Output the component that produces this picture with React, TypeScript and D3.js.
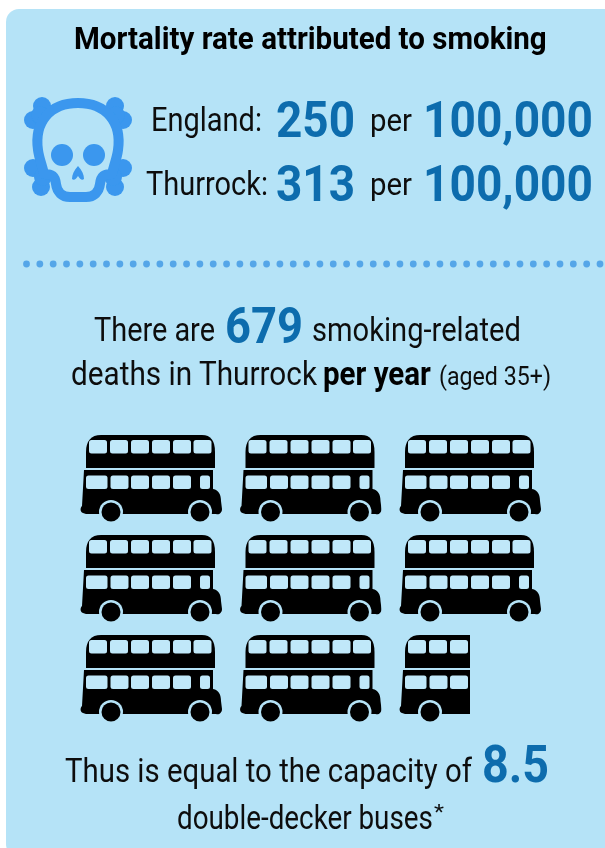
import React, { useEffect, useRef } from "react";
import * as d3 from "d3";

const areas = ["England:", "Thurrock:"];
const rates = [250, 313];
const perPopulation = [100000, 100000];
const deathsPerYear = 679;
const busCount = 8.5;
const busesPerRow = 3;

const upperWindows = [[9, 18], [30, 18], [51, 18], [72, 18], [93, 18], [113.5, 18]];
const lowerWindows = [[6, 21.5], [30.5, 18], [51, 18], [72, 18], [93, 18], [120, 10]];

const width = 605, height = 848;
const BG = "#b5e3f7";
const BLUE = "#0b6cad";
const SKULL = "#3a97ee";
const FONT = "Roboto, sans-serif";

const App = () => {
  const svgRef = useRef<SVGSVGElement>(null);

  useEffect(() => {
    const svg = d3.select(svgRef.current);
    svg.selectAll("*").remove();

    const defs = svg.append("defs");
    defs.append("filter").attr("id", "soft")
      .append("feGaussianBlur").attr("stdDeviation", 0.45);

    svg.append("rect")
      .attr("x", 6).attr("y", 9)
      .attr("width", width + 20).attr("height", height)
      .attr("rx", 13)
      .attr("fill", BG);

    const root = svg.append("g").attr("filter", "url(#soft)");

    // no condensed Roboto installed, so measure the text and squeeze it to fit
    const label = (str, x0, x1, baseline, size, weight = 400, fill = "#111") => {
      const t = root.append("text")
        .attr("font-family", FONT)
        .attr("font-size", size)
        .attr("font-weight", weight)
        .attr("fill", fill)
        .text(str);
      const natural = t.node().getComputedTextLength();
      t.attr("transform", `translate(${x0},${baseline}) scale(${(x1 - x0) / natural},1)`);
      return t;
    };

    label("Mortality rate attributed to smoking", 74, 547, 49, 31, 700, "#000");

    // Skull
    const skull = root.append("g").attr("fill", SKULL);
    const bones = [[42, 106], [33, 120], [40, 115], [115, 106], [123, 120], [116, 115], [33, 168], [41, 187], [43, 177], [123, 168], [115, 187], [113, 177]];
    skull.selectAll("circle.bone").data(bones).enter().append("circle")
      .attr("class", "bone")
      .attr("cx", d => d[0]).attr("cy", d => d[1]).attr("r", 9);
    skull.append("path")
      .attr("d", "M44 174 C42 165 39 158 38 150 C34 122 50 103 78 103 C106 103 122 122 118 150 C117 158 114 165 112 174 C104 174 101 176 100 184 C99 192 94 197 86 197 L70 197 C62 197 57 192 56 184 C55 176 52 174 44 174 Z")
      .attr("fill", "none")
      .attr("stroke", SKULL)
      .attr("stroke-width", 10)
      .attr("stroke-linejoin", "round");
    skull.selectAll("circle.eye").data([62, 94]).enter().append("circle")
      .attr("class", "eye")
      .attr("cx", d => d).attr("cy", 155).attr("r", 11);
    skull.append("path").attr("d", "M78 166 C74 170 72 175 72 179 C74 181 76 179 78 176 C80 179 82 181 84 179 C84 175 82 170 78 166 Z");

    // Rate rows
    const fmt = d3.format(",");
    const rowBase = d3.scalePoint().domain(areas).range([131, 195]);
    const labelX = [[151, 262], [146, 268]];
    areas.forEach((area, i) => {
      const y = rowBase(area);
      label(area, labelX[i][0], labelX[i][1], y, 34);
      label(String(rates[i]), 276, 355, y + 5.5, 50, 700, BLUE);
      label("per", 370, 412, y, 32);
      label(fmt(perPopulation[i]), 423, 593, y + 5.5, 50, 700, BLUE);
    });

    // Dotted divider
    const dotX = d3.scaleLinear().domain([0, 43]).range([26.5, 600]);
    root.selectAll("circle.dot").data(d3.range(44)).enter().append("circle")
      .attr("class", "dot")
      .attr("cx", d => dotX(d)).attr("cy", 264).attr("r", 3.4)
      .attr("fill", "#55a6e8");

    label("There are", 94, 215, 341, 34);
    label(String(deathsPerYear), 225, 303, 342.5, 50, 700, BLUE);
    label("smoking-related", 312, 521, 341, 34);
    label("deaths in Thurrock", 71, 317, 385, 34);
    label("per year", 323, 431, 385, 34, 700, "#000");
    label("(aged 35+)", 439, 551, 385, 26);

    // Buses, one icon per bus, the last one cut by its fraction
    const busW = 142;
    const buses = d3.range(Math.ceil(busCount)).map(i => ({
      i,
      share: Math.min(1, busCount - i),
    }));
    const col = d3.scaleLinear().domain([0, busesPerRow - 1]).range([80, 399]);
    const row = d3.scaleLinear().domain([0, 2]).range([435, 635]);

    buses.forEach(b => {
      const id = `bus-clip-${b.i}`;
      defs.append("clipPath").attr("id", id)
        .append("rect").attr("x", -2).attr("y", -2)
        .attr("width", b.share * busW + 2).attr("height", 100);

      const g = root.append("g")
        .attr("transform", `translate(${col(b.i % busesPerRow)},${row(Math.floor(b.i / busesPerRow))})`)
        .attr("clip-path", `url(#${id})`);

      // upper deck
      g.append("path")
        .attr("d", "M6 33 L6 17 C6 6 11 0 21 0 L122 0 C131 0 135 6 135 17 L135 33 Z")
        .attr("fill", "#000");
      // lower deck with bonnet
      g.append("path")
        .attr("d", "M4 35 L133 35 L133 54 C139 55 141 60 141 66 L142 74 C142 78 139 80 136 79 L6 79 L3 78 C0 77 0 73 2 71 Z")
        .attr("fill", "#000");

      [[upperWindows, 5, 13.5], [lowerWindows, 40.5, 13.5]].forEach(([wins, y, h]) => {
        g.selectAll(null).data(wins).enter().append("rect")
          .attr("x", d => d[0]).attr("y", y)
          .attr("width", d => d[1]).attr("height", h)
          .attr("rx", 2.5)
          .attr("fill", "#c0e8f9");
      });

      [31, 120].forEach(cx => {
        g.append("circle").attr("cx", cx).attr("cy", 77).attr("r", 12).attr("fill", BG);
        g.append("circle").attr("cx", cx).attr("cy", 77).attr("r", 9.5).attr("fill", "#000");
      });
    });

    label("Thus is equal to the capacity of", 65, 472, 782, 34);
    label(String(busCount), 482, 549, 782, 51, 700, BLUE);
    label("double-decker buses", 177, 433, 829, 34);
    label("*", 434, 444, 819, 20);
  }, []);

  return (
    <svg
      ref={svgRef}
      width={width}
      height={height}
      style={{ position: "fixed", left: 0, top: 0, display: "block", background: "#fff" }}
    />
  );
};

export default App;
